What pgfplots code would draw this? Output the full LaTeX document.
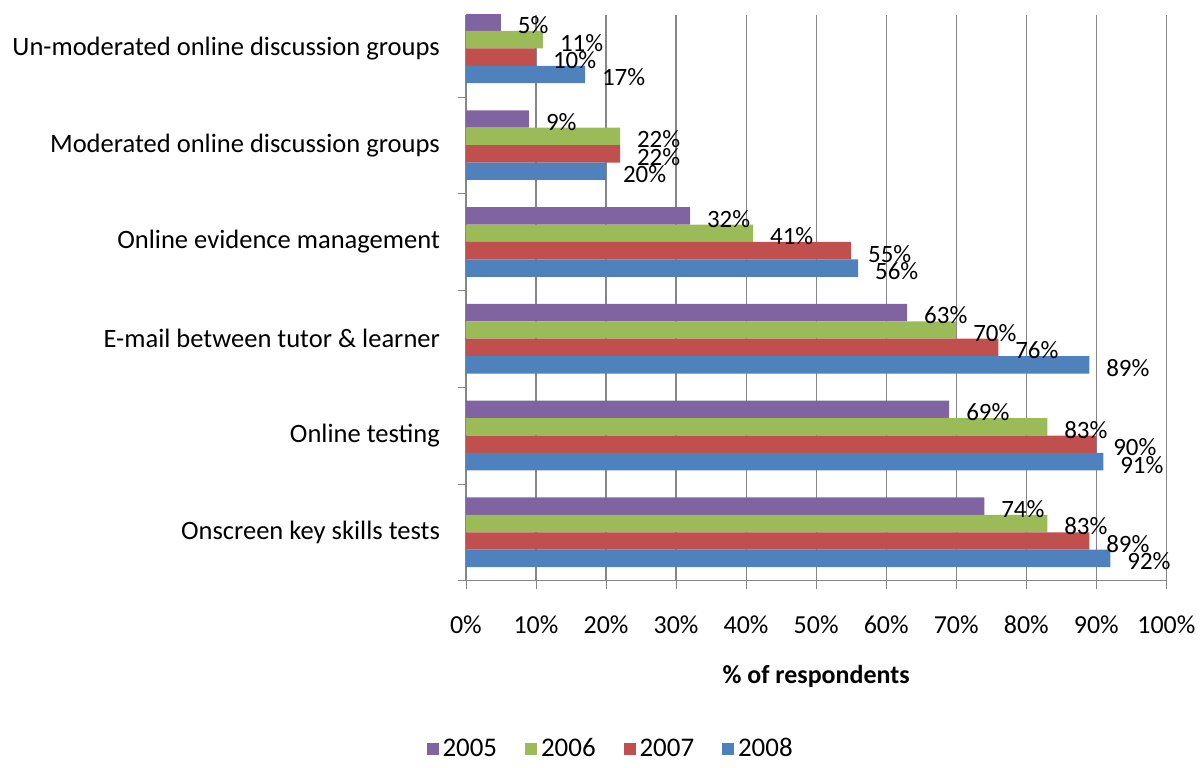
\documentclass[border=0pt]{standalone}
\usepackage{fontspec}
\setmainfont{Carlito}
\usepackage{pgfplots}
\pgfplotsset{compat=1.18}

\definecolor{cA}{HTML}{8064A2}
\definecolor{cB}{HTML}{9BBB59}
\definecolor{cC}{HTML}{C0504D}
\definecolor{cD}{HTML}{4F81BD}
\definecolor{gridgray}{HTML}{868686}

\begin{document}
\begin{tikzpicture}
\begin{axis}[
scale only axis,
width=351pt, height=283.5pt,
xbar, bar width=0.18,
xmin=0, xmax=100,
ymin=-0.5, ymax=5.345,
enlarge y limits=false,
axis x line*=bottom, axis y line*=left,
axis line style={gridgray},
xtick={0,10,...,100},
xticklabels={0\%,10\%,20\%,30\%,40\%,50\%,60\%,70\%,80\%,90\%,100\%},
ytick={0,1,2,3,4,5},
yticklabels={Onscreen key skills tests, Online testing, E-mail between tutor \& learner, Online evidence management, Moderated online discussion groups, Un-moderated online discussion groups},
minor ytick={-0.5,0.5,1.5,2.5,3.5,4.5},
major tick length=4pt,
minor tick length=4pt,
tick align=outside,
tick style={gridgray},
every major y tick/.append style={draw=none},
xmajorgrids=true,
grid style={gridgray, line width=0.6pt},
tick label style={font=\fontsize{13}{15}\selectfont},
yticklabel style={xshift=-5.5pt, font=\fontsize{13.3}{15}\selectfont},
xticklabel style={yshift=-10pt},
xlabel={\textbf{\% of respondents}},
xlabel style={at={(axis description cs:0.5,0)}, anchor=center, yshift=-48pt, font=\fontsize{13}{15}\selectfont},
point meta=x,
nodes near coords={\pgfmathprintnumber[assume math mode=true]{\pgfplotspointmeta}\%},
nodes near coords style={anchor=west, xshift=5pt, yshift=-1.5pt, font=\fontsize{12.5}{14}\selectfont},
legend style={at={(0.208,-0.298)}, anchor=center, draw=none, legend columns=-1,
  font=\fontsize{13.5}{15}\selectfont, /tikz/every even column/.append style={column sep=12pt}},
legend image code/.code={\fill[#1] (-2pt,-3pt) rectangle (4pt,3pt);},
]
\addplot[fill=cA, draw=none, bar shift=0.27] coordinates {(74,0) (69,1) (63,2) (32,3) (9,4) (5,5)};
\addplot[fill=cB, draw=none, bar shift=0.09] coordinates {(83,0) (83,1) (70,2) (41,3) (22,4) (11,5)};
\addplot[fill=cC, draw=none, bar shift=-0.09] coordinates {(89,0) (90,1) (76,2) (55,3) (22,4) (10,5)};
\addplot[fill=cD, draw=none, bar shift=-0.27] coordinates {(92,0) (91,1) (89,2) (56,3) (20,4) (17,5)};
\legend{2005,2006,2007,2008}
\end{axis}
\path ([xshift=-233.5pt,yshift=-89pt]current axis.south west) rectangle ([xshift=367.5pt,yshift=291pt]current axis.south west);
\end{tikzpicture}
\end{document}
